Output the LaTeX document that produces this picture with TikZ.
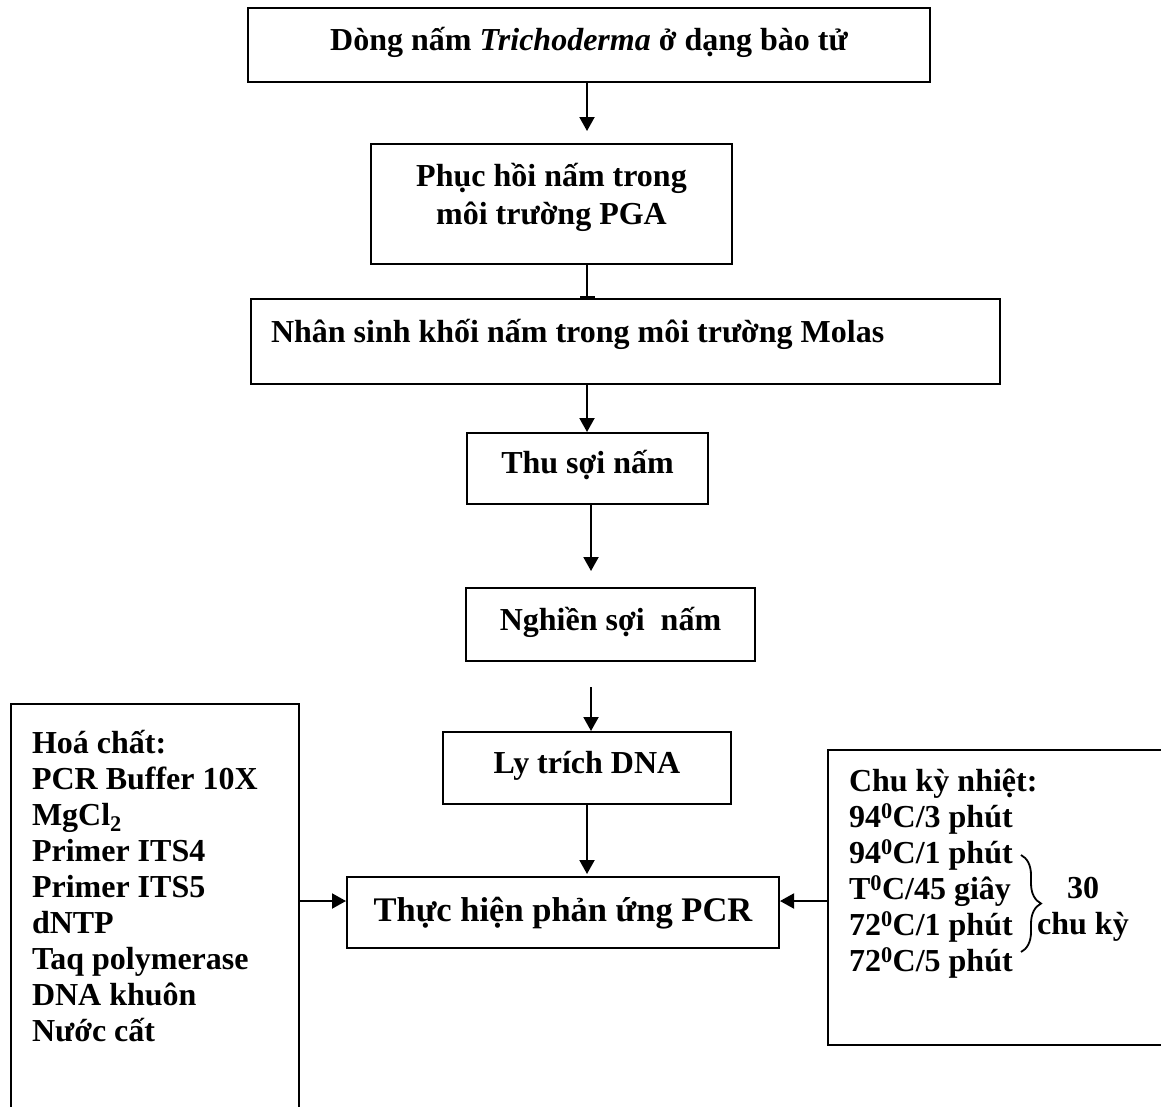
\documentclass[tikz,border=0pt]{standalone}
\usepackage{fontspec}
\setmainfont{Liberation Serif}
\usetikzlibrary{arrows.meta}
\usetikzlibrary{decorations.pathreplacing}

\begin{document}
\begin{tikzpicture}[x=1pt, y=-1pt,
		box/.style={draw, line width=2pt, inner sep=0pt, text height=24pt, text depth=8pt, font=\fontsize{32}{36}\selectfont\bfseries},
		link/.style={line width=2pt, -{Triangle[length=14pt, width=15pt]}}]
				\fill[white] (0,0) rectangle (1161,1106);
				\useasboundingbox (0,0) rectangle (1161,1106);
				
				\node[box, minimum width=682pt, minimum height=74pt, text depth=12.8pt] (dong) at (589,45) {Dòng nấm \textit{Trichoderma} ở dạng bào tử};
				\node[box, minimum width=361pt, minimum height=120pt, text height=62pt, text depth=20.8pt, align=flush center, font=\fontsize{32}{38}\selectfont\bfseries] (phuchoi) at (551.5,204) {Phục hồi nấm trong\\môi trường PGA};
				\node[box, minimum width=749pt, minimum height=85pt, text depth=21.8pt, text width=709pt, align=flush left] (nhansinh) at (625.5,341.5) {Nhân sinh khối nấm trong môi trường Molas};
				\node[box, minimum width=241pt, minimum height=71pt, text depth=13.8pt] (thusoi) at (587.5,468.5) {Thu sợi nấm};
				\node[box, minimum width=289pt, minimum height=73pt, text depth=11.8pt] (nghien) at (610.5,624.5) {Nghiền sợi\ \ nấm};
				\node[box, minimum width=288pt, minimum height=72pt, text depth=12.8pt] (lytrich) at (587,768) {Ly trích DNA};
				\node[box, minimum width=432pt, minimum height=71pt, text height=26pt, text depth=8.2pt, font=\fontsize{34.5}{40}\selectfont\bfseries] (pcr) at (563,912.5) {Thực hiện phản ứng PCR};
				
				\node[box, anchor=north west, inner xsep=21pt, inner ysep=25.6pt, text width=246pt, text depth=356pt, align=flush left] (hoachat) at (10,703) {Hoá chất:\\PCR Buffer 10X\\MgCl\textsubscript{2}\\Primer ITS4\\Primer ITS5\\dNTP\\Taq polymerase\\DNA khuôn\\Nước cất};
				\node[box, anchor=north west, inner xsep=21pt, inner ysep=17.6pt, text width=400pt, text depth=235.8pt, align=flush left] (chuky) at (827,749) {Chu kỳ nhiệt:\\94\textsuperscript{0}C/3 phút\\94\textsuperscript{0}C/1 phút\\T\textsuperscript{0}C/45 giây\\72\textsuperscript{0}C/1 phút\\72\textsuperscript{0}C/5 phút};
				\node[box, draw=none, text height=60pt, align=flush center] (vong) at (1083,908.6) {30\\chu kỳ};
				
				\coordinate (mid) at (587,0);
				\coordinate (mid2) at (591,0);
				\coordinate (side) at (0,901);
				
				\draw[link, shorten >=12pt] (dong.south -| mid) -- (phuchoi.north -| mid);
				\draw[line width=2pt, -{Bar[width=15pt]}] (phuchoi.south -| mid) -- (nhansinh.north -| mid);
				\draw[link] (nhansinh.south -| mid) -- (thusoi.north -| mid);
				\draw[link, shorten >=16pt] (thusoi.south -| mid2) -- (nghien.north -| mid2);
				\draw[link, shorten <=25pt] (nghien.south -| mid2) -- (lytrich.north -| mid2);
				\draw[link, shorten >=2pt] (lytrich.south -| mid) -- (pcr.north -| mid);
				\draw[link] (hoachat.east |- side) -- (pcr.west |- side);
				\draw[link] (chuky.west |- side) -- (pcr.east |- side);
				\draw[line width=1.8pt, decorate, decoration={brace, amplitude=20pt}] (1021,855) -- (1021,952);
			\end{tikzpicture}
\end{document}
